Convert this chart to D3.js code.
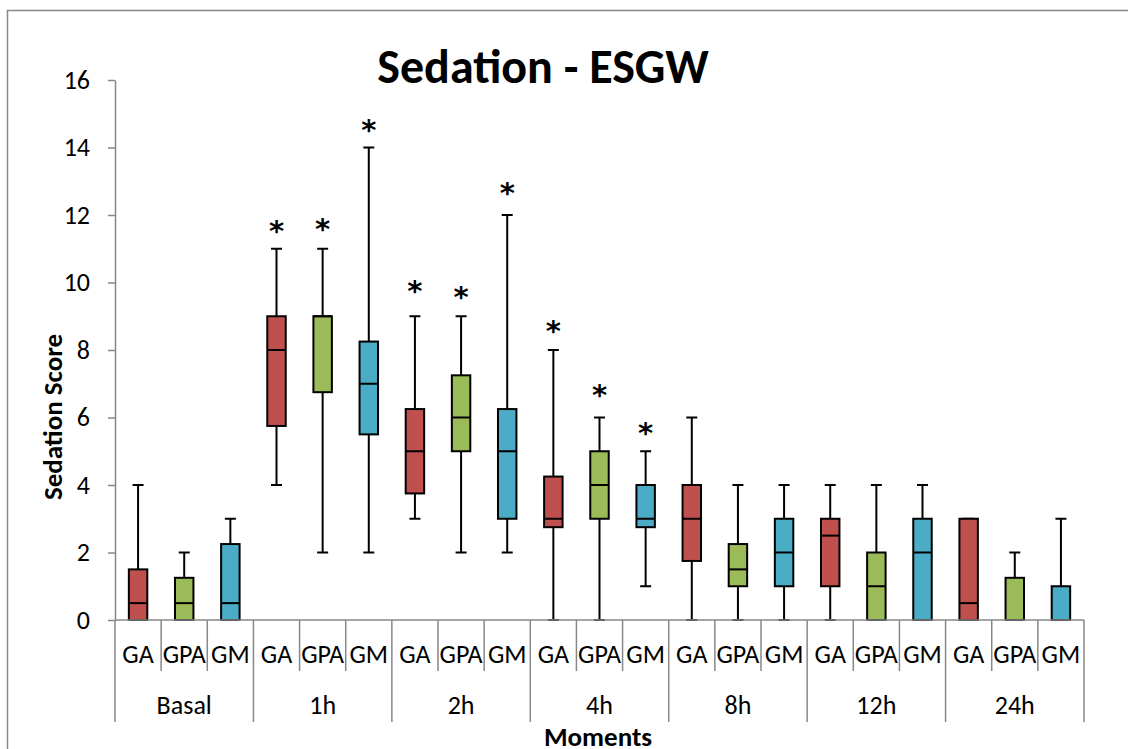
<!DOCTYPE html>
<html>
<head>
<meta charset="utf-8">
<script src="https://cdn.jsdelivr.net/npm/d3@7"></script>
<style>
  html, body { margin: 0; padding: 0; background: #fff; }
  svg { display: block; }
  text { font-family: Calibri, Carlito, "Liberation Sans", Arial, sans-serif; fill: #000; }
</style>
</head>
<body>
<svg id="chart" width="1128" height="749"></svg>
<script>
// ---- data ----
const moments = ["Basal", "1h", "2h", "4h", "8h", "12h", "24h"];
const groups = ["GA", "GPA", "GM"];
const yTicks = [0, 2, 4, 6, 8, 10, 12, 14, 16];

const gaMin = [0, 4, 3, 0, 0, 0, 0];
const gaQ1  = [0, 5.75, 3.75, 2.75, 1.75, 1, 0];
const gaMed = [0.5, 8, 5, 3, 3, 2.5, 0.5];
const gaQ3  = [1.5, 9, 6.25, 4.25, 4, 3, 3];
const gaMax = [4, 11, 9, 8, 6, 4, 3];
const gaSig = [null, 11.73, 9.95, 8.77, null, null, null];

const gpaMin = [0, 2, 2, 0, 0, 0, 0];
const gpaQ1  = [0, 6.75, 5, 3, 1, 0, 0];
const gpaMed = [0.5, 9, 6, 4, 1.5, 1, 0];
const gpaQ3  = [1.25, 9, 7.25, 5, 2.25, 2, 1.25];
const gpaMax = [2, 11, 9, 6, 4, 4, 2];
const gpaSig = [null, 11.79, 9.78, 6.87, null, null, null];

const gmMin = [0, 2, 2, 1, 0, 0, 0];
const gmQ1  = [0, 5.5, 3, 2.75, 1, 0, 0];
const gmMed = [0.5, 7, 5, 3, 2, 2, 0];
const gmQ3  = [2.25, 8.25, 6.25, 4, 3, 3, 1];
const gmMax = [3, 14, 12, 5, 4, 4, 3];
const gmSig = [null, 14.72, 12.86, 5.76, null, null, null];

const colors = { GA: "#C0504D", GPA: "#9BBB59", GM: "#4BACC6" };

// ---- build table ----
const stats = {
  GA:  { min: gaMin,  q1: gaQ1,  med: gaMed,  q3: gaQ3,  max: gaMax,  sig: gaSig },
  GPA: { min: gpaMin, q1: gpaQ1, med: gpaMed, q3: gpaQ3, max: gpaMax, sig: gpaSig },
  GM:  { min: gmMin,  q1: gmQ1,  med: gmMed,  q3: gmQ3,  max: gmMax,  sig: gmSig }
};
const rows = [];
moments.forEach((m, i) => {
  groups.forEach(g => {
    const s = stats[g];
    rows.push({ moment: m, group: g, min: s.min[i], q1: s.q1[i], med: s.med[i], q3: s.q3[i], max: s.max[i], sig: s.sig[i] });
  });
});

// ---- layout ----
const svg = d3.select("#chart");
const plotLeft = 115, plotRight = 1084, plotTop = 80, plotBottom = 620;
const axisGray = "#878787";
const labelFont = "26px";

const x0 = d3.scaleBand().domain(moments).range([plotLeft, plotRight]).paddingInner(0).paddingOuter(0);
const x1 = d3.scaleBand().domain(groups).range([0, x0.bandwidth()]).padding(0);
const y = d3.scaleLinear().domain([0, 16]).range([plotBottom, plotTop]);

const boxW = x1.bandwidth() * 0.4;
const capW = 11;

// outer border
svg.append("path")
  .attr("d", `M1130,10.5 H7.5 V752`)
  .attr("fill", "none").attr("stroke", axisGray).attr("stroke-width", 1.5);

// title
svg.append("text")
  .attr("x", 543).attr("y", 83)
  .attr("text-anchor", "middle")
  .style("font-size", "48px").style("font-weight", "bold")
  .text("Sedation - ESGW");

// y axis
const yAxis = d3.axisLeft(y).tickValues(yTicks).tickSize(7).tickSizeOuter(0).tickPadding(18);
const gy = svg.append("g").attr("transform", `translate(${plotLeft},0)`).call(yAxis);
gy.select(".domain").attr("stroke", axisGray).attr("stroke-width", 1.5);
gy.selectAll(".tick line").attr("stroke", axisGray).attr("stroke-width", 1.5);
gy.selectAll(".tick text").style("font-size", labelFont)
  .style("font-family", "Calibri, Carlito, 'Liberation Sans', Arial, sans-serif").attr("fill", "#000");

// y title
svg.append("text")
  .attr("transform", `translate(62,417) rotate(-90)`)
  .attr("text-anchor", "middle")
  .style("font-size", "27px").style("font-weight", "bold")
  .text("Sedation Score");

// boxes
const g = svg.append("g");
const items = g.selectAll("g.item").data(rows).join("g").attr("class", "item")
  .attr("transform", d => `translate(${x0(d.moment) + x1(d.group) + x1.bandwidth() / 2},0)`);

items.append("line")
  .attr("x1", 0).attr("x2", 0)
  .attr("y1", d => y(d.min)).attr("y2", d => y(d.max))
  .attr("stroke", "#000").attr("stroke-width", 2);
items.append("line")
  .attr("x1", -capW / 2).attr("x2", capW / 2)
  .attr("y1", d => y(d.max)).attr("y2", d => y(d.max))
  .attr("stroke", "#000").attr("stroke-width", 2);
items.append("line")
  .attr("x1", -capW / 2).attr("x2", capW / 2)
  .attr("y1", d => y(d.min)).attr("y2", d => y(d.min))
  .attr("stroke", "#000").attr("stroke-width", 2);
items.append("rect")
  .attr("x", -boxW / 2).attr("width", boxW)
  .attr("y", d => y(d.q3)).attr("height", d => y(d.q1) - y(d.q3))
  .attr("fill", d => colors[d.group])
  .attr("stroke", "#000").attr("stroke-width", 2);
items.append("line")
  .attr("x1", -boxW / 2).attr("x2", boxW / 2)
  .attr("y1", d => y(d.med)).attr("y2", d => y(d.med))
  .attr("stroke", "#000").attr("stroke-width", 2);

// significance asterisks
items.filter(d => d.sig != null).append("text")
  .attr("x", 0).attr("y", d => y(d.sig) + 17)
  .attr("text-anchor", "middle")
  .style("font-family", "'DejaVu Sans', sans-serif")
  .style("font-size", "29px")
  .style("font-weight", "bold")
  .text("*");

// x axis: baseline and separators
const xg = svg.append("g");
xg.append("line")
  .attr("x1", plotLeft).attr("x2", plotRight).attr("y1", plotBottom).attr("y2", plotBottom)
  .attr("stroke", axisGray).attr("stroke-width", 1.5);

const slotEdges = [];
moments.forEach((m, i) => {
  groups.forEach((gr, j) => {
    slotEdges.push({ x: x0(m) + x1(gr), major: j === 0 });
  });
});
slotEdges.push({ x: plotRight, major: true });
xg.selectAll("line.sep").data(slotEdges).join("line").attr("class", "sep")
  .attr("x1", d => d.x).attr("x2", d => d.x)
  .attr("y1", plotBottom).attr("y2", d => d.major ? 722 : 671)
  .attr("stroke", axisGray).attr("stroke-width", 1.5);

// inner labels
xg.selectAll("text.grp").data(rows).join("text").attr("class", "grp")
  .attr("x", d => x0(d.moment) + x1(d.group) + x1.bandwidth() / 2)
  .attr("y", 663)
  .attr("text-anchor", "middle")
  .style("font-size", labelFont)
  .text(d => d.group);

// moment labels
xg.selectAll("text.mom").data(moments).join("text").attr("class", "mom")
  .attr("x", d => x0(d) + x0.bandwidth() / 2)
  .attr("y", 714)
  .attr("text-anchor", "middle")
  .style("font-size", labelFont)
  .text(d => d);

// x title
svg.append("text")
  .attr("x", 598).attr("y", 746)
  .attr("text-anchor", "middle")
  .style("font-size", "27px").style("font-weight", "bold")
  .text("Moments");
</script>
</body>
</html>
